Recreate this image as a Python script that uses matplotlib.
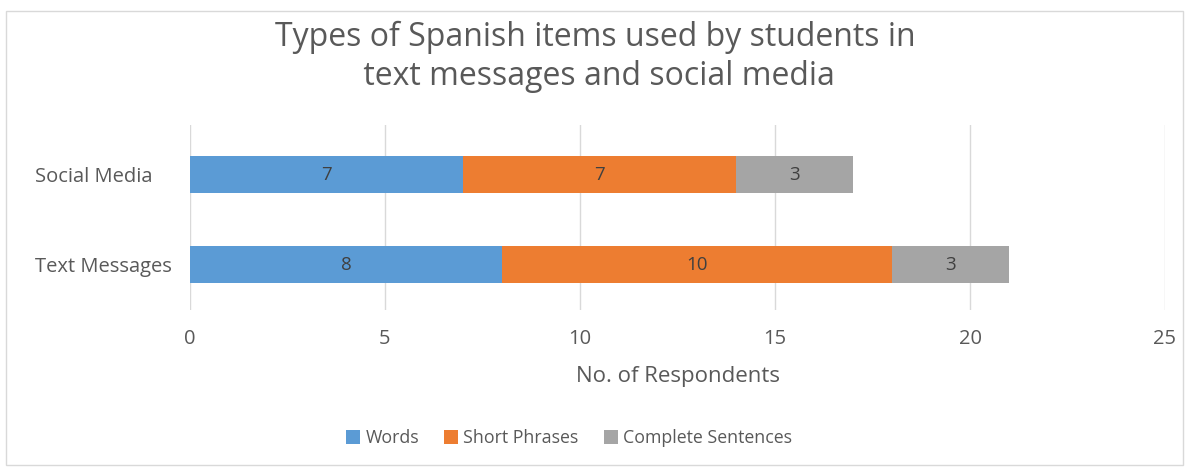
import matplotlib

matplotlib.use("Agg")
import matplotlib.pyplot as plt
from matplotlib.patches import Rectangle

# Datos
categories = ["Text Messages", "Social Media"]
series_names = ["Words", "Short Phrases", "Complete Sentences"]
words = [8, 7]
short_phrases = [10, 7]
complete_sentences = [3, 3]
x_ticks = [0, 5, 10, 15, 20, 25]

colors = ["#5B9BD5", "#ED7D31", "#A5A5A5"]
text_color = "#595959"

plt.rcParams["font.family"] = ["Open Sans", "DejaVu Sans"]

fig = plt.figure(figsize=(11.9, 4.72), dpi=100)
fig.patches.append(Rectangle((6 / 1190, 7 / 472), 1177 / 1190, 454 / 472,
                             transform=fig.transFigure, fill=False,
                             edgecolor="#D9D9D9", linewidth=1))

ax = fig.add_axes([190 / 1190, 1 - 310 / 472, 975 / 1190, 185 / 472])

y = list(range(len(categories)))
left = [0] * len(categories)
for name, vals, color in zip(series_names, [words, short_phrases, complete_sentences], colors):
    bars = ax.barh(y, vals, left=left, height=0.41, color=color, label=name)
    for b, v in zip(bars, vals):
        ax.text(b.get_x() + b.get_width() / 2, b.get_y() + b.get_height() / 2, str(v),
                ha="center", va="center", fontsize=13.5, color="#404040")
    left = [l + v for l, v in zip(left, vals)]

ax.set_xlim(0, 25)
ax.set_ylim(-0.5, 1.55)
ax.set_xticks(x_ticks)
ax.set_yticks(y)
ax.set_yticklabels(categories, ha="left")
ax.tick_params(axis="both", length=0, labelsize=14.5, colors=text_color)
ax.tick_params(axis="x", pad=14)
# pad en puntos: etiquetas alineadas a la izquierda en x~35 px
ax.tick_params(axis="y", pad=(190 - 35) * 0.72)
ax.grid(True, axis="x", color="#D9D9D9", linewidth=1)
ax.set_axisbelow(True)
for s in ax.spines.values():
    s.set_visible(False)

ax.set_xlabel("No. of Respondents", fontsize=16, color=text_color, labelpad=12)

fig.text(0.5, 1 - 57 / 472, "Types of Spanish items used by students in\n text messages and social media",
         ha="center", va="center", fontsize=23, color=text_color, linespacing=1.25)

ax.legend(loc="center", bbox_to_anchor=(0.5 + (569 - 677.5) / 975, (310 - 438) / 185),
          ncol=3, frameon=False, fontsize=12.8, labelcolor=text_color,
          handlelength=0.8, handleheight=0.8, handletextpad=0.3, columnspacing=1.4)

fig.savefig("out.png", dpi=100)
